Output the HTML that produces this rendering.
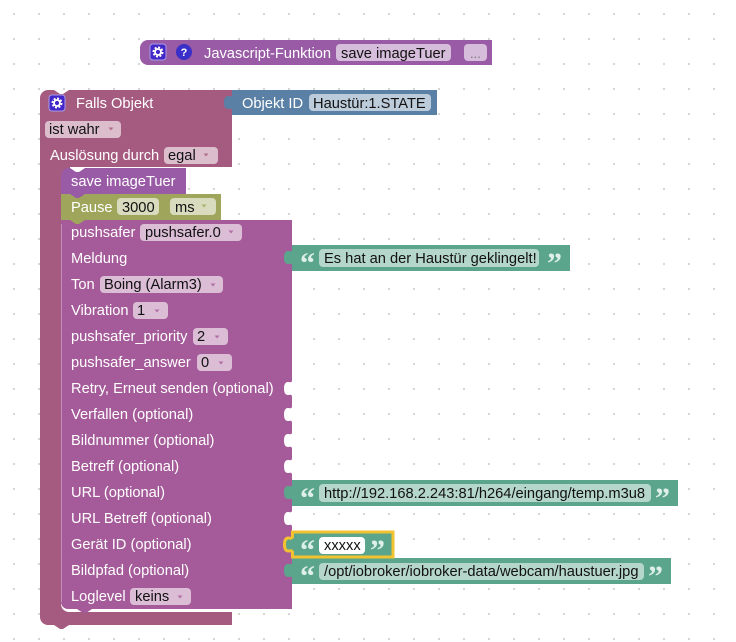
<!DOCTYPE html>
<html><head><meta charset="utf-8"><style>
html,body{margin:0;padding:0;background:#fff}
svg{display:block}
text{font-family:"Liberation Sans",Arial,sans-serif;font-size:14.67px;fill:#fff}
.d{fill:#111}
.p{fill:#fff;fill-opacity:.6}
.q{font-family:"Liberation Serif",serif;font-size:30px;font-weight:bold;fill:#dff0ea}
</style></head><body>
<svg width="736" height="642" viewBox="0 0 736 642" xmlns="http://www.w3.org/2000/svg">
<defs>
<pattern id="g" width="25" height="25" patternUnits="userSpaceOnUse"><rect x="13" y="13" width="2" height="2" fill="#d6d6d6"/></pattern>
<path id="puz" d="M1 0V15H0C-1 13-2 14-4 14-7 14-8 11-8 7.500S-7 1-4 1C-2 1-1 2 0 0z"/>
<path id="arr" d="M-2.500-1.500h5l-2.500 3z" fill-opacity=".8"/>
<g id="gear">
<rect x="-8" y="-8" width="16" height="16" rx="3" fill="#4326c8" stroke="#a99be8" stroke-width="1"/>
<circle r="4.6" fill="none" stroke="#fff" stroke-width="1.800" stroke-dasharray="2 1.600"/>
<circle r="3" fill="none" stroke="#fff" stroke-width="1.800"/>
</g>
</defs>
<rect width="736" height="642" fill="#fff"/>
<rect width="736" height="642" fill="url(#g)"/>

<!-- function -->
<path d="M148 40H492V65H148a8 8 0 0 1-8-8V48a8 8 0 0 1 8-8z" fill="#995ba5"/>
<use href="#gear" transform="translate(158 52)"/>
<circle cx="184" cy="52" r="8" fill="#3a2fc8"/>
<text x="184" y="56" text-anchor="middle" style="font-size:11px;font-weight:bold">?</text>
<text x="204" y="58">Javascript-Funktion</text>
<rect x="336" y="44" width="115" height="17" rx="4" class="p"/>
<text x="341" y="58" class="d">save imageTuer</text>
<rect x="464" y="44" width="23" height="17" rx="4" class="p"/>
<text x="470" y="58" style="font-size:13px;fill:#777">...</text>

<!-- falls objekt -->
<path d="M48 90H54l6 4h3l6-4H232V167H61V604a8 8 0 0 0 8 8H232V625H69l-6 4h-3l-6-4H48a8 8 0 0 1-8-8V98a8 8 0 0 1 8-8z" fill="#a55b80"/>
<rect x="61" y="167" width="9" height="9" fill="#a55b80"/>
<use href="#gear" transform="translate(57 103)"/>
<text x="76" y="108">Falls Objekt</text>
<rect x="45" y="121" width="76" height="17" rx="4" class="p"/>
<text x="49" y="134" class="d">ist wahr</text>
<use href="#arr" transform="translate(111 129)" fill="#a55b80"/>
<text x="50" y="160">Auslösung durch</text>
<rect x="164" y="147" width="54" height="17" rx="4" class="p"/>
<text x="168" y="160" class="d">egal</text>
<use href="#arr" transform="translate(206 155)" fill="#a55b80"/>

<!-- object id -->
<rect x="232" y="90" width="205" height="25" fill="#5b80a5"/>
<use href="#puz" transform="translate(232 95)" fill="#5b80a5"/>
<text x="242" y="108">Objekt ID</text>
<rect x="309" y="94" width="122" height="17" rx="4" class="p"/>
<text x="313" y="108" class="d">Haustür:1.STATE</text>

<!-- save imageTuer -->
<path d="M69 168h1l6 4h3l6-4H186V194H61V176a8 8 0 0 1 8-8z" fill="#995ba5"/>
<text x="71" y="186">save imageTuer</text>

<!-- pause -->
<rect x="61" y="194" width="160" height="26" fill="#9fa65b"/>
<path d="M70 194l6 4h3l6-4z" fill="#995ba5"/>
<text x="71" y="212">Pause</text>
<rect x="117" y="198" width="42" height="17" rx="4" class="p"/>
<text x="122" y="212" class="d">3000</text>
<rect x="170" y="198" width="46" height="17" rx="4" class="p"/>
<text x="175" y="212" class="d">ms</text>
<use href="#arr" transform="translate(204 206)" fill="#9fa65b"/>

<!-- pushsafer -->
<path d="M61 220H292V609H92l-6 4h-3l-6-4H68a7 7 0 0 1-7-7z" fill="#a55b99"/>
<path d="M70 220l6 4h3l6-4z" fill="#9fa65b"/>
<path d="M61.500 224V602" stroke="#c58fbc" stroke-width="1"/>

<g>
<text x="71" y="237">pushsafer</text>
<rect x="140" y="224" width="102" height="17" rx="4" class="p"/>
<text x="145" y="237" class="d">pushsafer.0</text>
<use href="#arr" transform="translate(231 232)" fill="#a55b99"/>
<text x="71" y="263">Meldung</text>
<text x="71" y="289">Ton</text>
<rect x="100" y="276" width="123" height="17" rx="4" class="p"/>
<text x="104" y="289" class="d">Boing (Alarm3)</text>
<use href="#arr" transform="translate(213 285)" fill="#a55b99"/>
<text x="71" y="315">Vibration</text>
<rect x="133" y="302" width="35" height="17" rx="4" class="p"/>
<text x="137" y="315" class="d">1</text>
<use href="#arr" transform="translate(157 311)" fill="#a55b99"/>
<text x="71" y="341">pushsafer_priority</text>
<rect x="193" y="328" width="35" height="17" rx="4" class="p"/>
<text x="197" y="341" class="d">2</text>
<use href="#arr" transform="translate(217 337)" fill="#a55b99"/>
<text x="71" y="367">pushsafer_answer</text>
<rect x="197" y="354" width="35" height="17" rx="4" class="p"/>
<text x="201" y="367" class="d">0</text>
<use href="#arr" transform="translate(221 363)" fill="#a55b99"/>
<text x="71" y="393">Retry, Erneut senden (optional)</text>
<text x="71" y="419">Verfallen (optional)</text>
<text x="71" y="445">Bildnummer (optional)</text>
<text x="71" y="471">Betreff (optional)</text>
<text x="71" y="497">URL (optional)</text>
<text x="71" y="523">URL Betreff (optional)</text>
<text x="71" y="549">Gerät ID (optional)</text>
<text x="71" y="575">Bildpfad (optional)</text>
<text x="71" y="601">Loglevel</text>
<rect x="130" y="588" width="61" height="17" rx="4" class="p"/>
<text x="135" y="601" class="d">keins</text>
<use href="#arr" transform="translate(180 597)" fill="#a55b99"/>
</g>

<!-- empty sockets -->
<g fill="#fff">
<use href="#puz" transform="translate(292 381)"/>
<use href="#puz" transform="translate(292 407)"/>
<use href="#puz" transform="translate(292 433)"/>
<use href="#puz" transform="translate(292 459)"/>
<use href="#puz" transform="translate(292 511)"/>
</g>

<!-- strings -->
<g fill="#5ba58c">
<rect x="292" y="245" width="278" height="26"/><use href="#puz" transform="translate(292 250)"/>
<rect x="292" y="480" width="386" height="26"/><use href="#puz" transform="translate(292 485)"/>
<rect x="292" y="558" width="379" height="26"/><use href="#puz" transform="translate(292 563)"/>
</g>
<path d="M292.500 532H393V557H292.500V552C291.500 550 290 551 288.500 551 285.500 551 284.500 548 284.500 544.500S285.500 538 288.500 538C290 538 291.500 539 292.500 537z" fill="#5ba58c" stroke="#f2c230" stroke-width="3"/>

<g>
<text x="300" y="273" class="q">“</text>
<rect x="319" y="249" width="220" height="18" rx="4" fill="#fff" fill-opacity=".55"/>
<text x="324" y="263" class="d">Es hat an der Haustür geklingelt!</text>
<text x="547" y="273" class="q">”</text>

<text x="300" y="508" class="q">“</text>
<rect x="319" y="484" width="332" height="18" rx="4" fill="#fff" fill-opacity=".55"/>
<text x="324" y="498" class="d">http://192.168.2.243:81/h264/eingang/temp.m3u8</text>
<text x="655" y="508" class="q">”</text>

<text x="300" y="560" class="q">“</text>
<rect x="319" y="537" width="46" height="17" rx="4" fill="#fff"/>
<text x="324" y="550" class="d">xxxxx</text>
<text x="370" y="560" class="q">”</text>

<text x="300" y="586" class="q">“</text>
<rect x="319" y="563" width="325" height="17" rx="4" fill="#fff" fill-opacity=".55"/>
<text x="324" y="576" class="d">/opt/iobroker/iobroker-data/webcam/haustuer.jpg</text>
<text x="648" y="586" class="q">”</text>
</g>
</svg>
</body></html>
